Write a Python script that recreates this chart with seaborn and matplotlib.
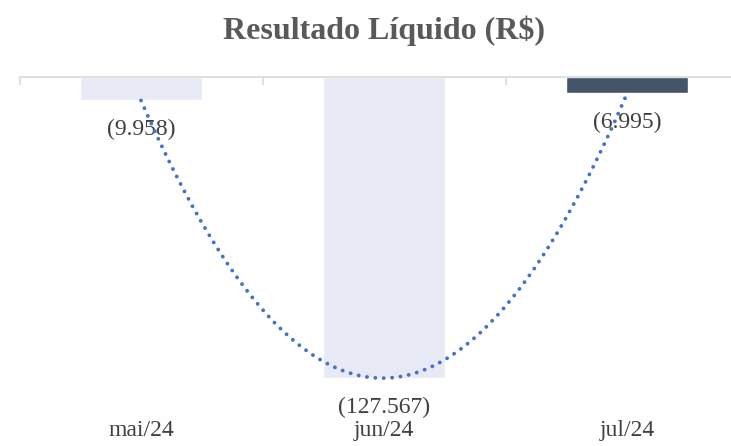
import numpy as np
import pandas as pd
import matplotlib
matplotlib.use("Agg")
import matplotlib.pyplot as plt
import seaborn as sns

# chart data
months = ["mai/24", "jun/24", "jul/24"]
resultado = [-9958, -127567, -6995]
bar_colors = ["#e7eaf5", "#e7eaf5", "#44546a"]


def fmt_brl(v):
    # negative numbers in parentheses, dot as thousands separator
    s = f"{abs(v):,.0f}".replace(",", ".")
    return f"({s})" if v < 0 else s


sns.set_style("white")
plt.rcParams["font.family"] = ["Liberation Serif", "DejaVu Serif"]

df = pd.DataFrame({"Mes": months, "Valor": resultado})

fig = plt.figure(figsize=(7.31, 4.46), dpi=100)
ax = fig.add_axes([0.0267, 0.0493, 0.9973, 0.7781])

sns.barplot(data=df, x="Mes", y="Valor", hue="Mes", palette=bar_colors,
            width=0.5, legend=False, ax=ax, saturation=1)

# polynomial trendline (order 2) through the values, dotted like excel
xs = np.arange(len(resultado))
coef = np.polyfit(xs, resultado, 2)
xx = np.linspace(0, len(resultado) - 1, 200)
ax.plot(xx, np.polyval(coef, xx), color="#4472c4", lw=2.8,
        linestyle=(0, (0.01, 2.15)), dash_capstyle="round", zorder=5)

# data labels below the bar ends
for i, v in enumerate(resultado):
    ax.annotate(fmt_brl(v), (i, v), xytext=(0, -21), textcoords="offset points",
                ha="center", va="center", fontsize=17, color="#404040", zorder=4)

ax.set_xlim(-0.5, len(months) - 0.5)
ax.set_ylim(-147000, 0)
ax.set_xlabel("")
ax.set_ylabel("")
ax.set_yticks([])

for side in ["left", "right", "bottom"]:
    ax.spines[side].set_visible(False)
ax.spines["top"].set_color("#d9d9d9")
ax.spines["top"].set_linewidth(1.2)

# category boundary ticks on the zero line
ax.set_xticks(np.arange(-0.5, len(months)), minor=True)
ax.tick_params(axis="x", which="minor", top=True, bottom=False, direction="in",
               length=6, width=1.2, color="#d9d9d9")
ax.tick_params(axis="x", which="major", length=0, pad=-3, labelsize=17,
               labelcolor="#404040")

fig.suptitle("Resultado Líquido (R$)", x=0.525, y=0.965, fontsize=23,
             fontweight="bold", color="#595959")

fig.savefig("out.png", dpi=100)
